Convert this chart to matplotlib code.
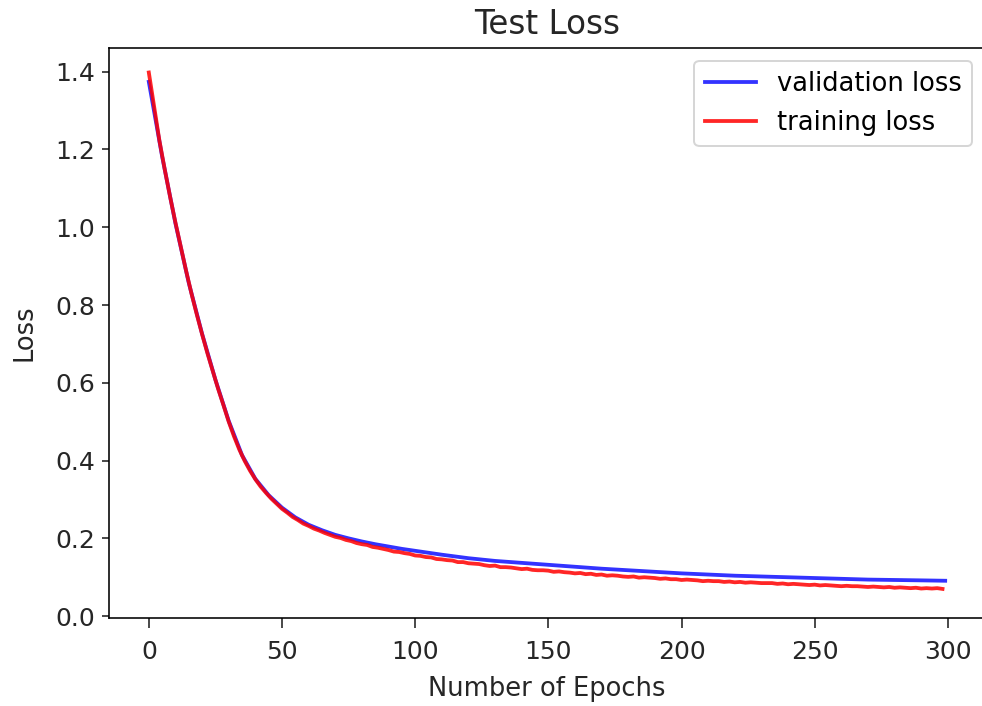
import matplotlib
matplotlib.use("Agg")
import matplotlib.pyplot as plt

# Validation loss, sampled every 5 epochs (last point at epoch 299)
val_epochs = [0, 5, 10, 15, 20, 25, 30, 35, 40, 45, 50, 55, 60, 65, 70, 75, 80,
              85, 90, 95, 100, 110, 120, 130, 140, 150, 160, 170, 180, 190, 200,
              210, 220, 230, 240, 250, 260, 270, 280, 290, 299]
val_loss = [1.374, 1.182, 1.010, 0.857, 0.726, 0.608, 0.502, 0.414, 0.353, 0.311,
            0.279, 0.254, 0.235, 0.221, 0.209, 0.200, 0.192, 0.185, 0.179, 0.173,
            0.168, 0.158, 0.149, 0.142, 0.137, 0.132, 0.127, 0.122, 0.118, 0.114,
            0.110, 0.107, 0.104, 0.102, 0.100, 0.098, 0.096, 0.094, 0.093, 0.092,
            0.091]

# Training loss, sampled every 2 epochs
train_epochs = list(range(0, 300, 2))
train_loss = [
    1.398, 1.310, 1.222, 1.148, 1.078, 1.012, 0.950, 0.888, 0.830, 0.776,
    0.725, 0.676, 0.630, 0.585, 0.543, 0.500, 0.462, 0.428, 0.399, 0.374,
    0.352, 0.333, 0.317, 0.302, 0.289, 0.276, 0.266, 0.255, 0.247, 0.238,
    0.232, 0.225, 0.220, 0.214, 0.209, 0.204, 0.201, 0.196, 0.193, 0.188,
    0.185, 0.183, 0.178, 0.176, 0.173, 0.170, 0.166, 0.165, 0.162, 0.160,
    0.156, 0.155, 0.152, 0.151, 0.147, 0.146, 0.144, 0.143, 0.139, 0.139,
    0.136, 0.135, 0.134, 0.131, 0.129, 0.130, 0.126, 0.126, 0.125, 0.123,
    0.121, 0.122, 0.119, 0.118, 0.118, 0.117, 0.114, 0.115, 0.113, 0.112,
    0.110, 0.111, 0.108, 0.109, 0.106, 0.107, 0.104, 0.105, 0.104, 0.102,
    0.101, 0.102, 0.099, 0.100, 0.099, 0.098, 0.096, 0.097, 0.095, 0.095,
    0.093, 0.094, 0.093, 0.092, 0.090, 0.091, 0.090, 0.090, 0.088, 0.089,
    0.087, 0.088, 0.086, 0.087, 0.086, 0.085, 0.085, 0.085, 0.083, 0.084,
    0.082, 0.083, 0.082, 0.081, 0.080, 0.081, 0.079, 0.080, 0.079, 0.078,
    0.077, 0.078, 0.077, 0.077, 0.076, 0.075, 0.076, 0.075, 0.074, 0.075,
    0.073, 0.074, 0.073, 0.072, 0.073, 0.071, 0.072, 0.071, 0.072, 0.070,
]

title = "Test Loss"
x_label = "Number of Epochs"
y_label = "Loss"
x_ticks = [0, 50, 100, 150, 200, 250, 300]
y_ticks = [0.0, 0.2, 0.4, 0.6, 0.8, 1.0, 1.2, 1.4]

fig = plt.figure(figsize=(982 / 144, 706 / 144), dpi=144)
ax = fig.add_axes([109 / 982, 1 - 617.7 / 706, 876 / 982, (617.7 - 48) / 706])

ax.plot(val_epochs, val_loss, color="blue", alpha=0.8, lw=1.9, label="validation loss")
ax.plot(train_epochs, train_loss, color="red", alpha=0.85, lw=1.9, label="training loss")

ax.set_xlim(-14.95, 313.95)
ax.set_ylim(-0.004, 1.461)
ax.set_xticks(x_ticks)
ax.set_yticks(y_ticks)
ax.tick_params(labelsize=12.5, colors="#222222", labelcolor="#262626")
ax.tick_params(axis="x", length=5, pad=6)
ax.set_title(title, fontsize=16.3, color="#262626", pad=7)
ax.set_xlabel(x_label, fontsize=12.9, color="#262626", labelpad=6)
ax.set_ylabel(y_label, fontsize=12.9, color="#262626", labelpad=9)
ax.legend(loc="upper right", fontsize=12.9)

fig.savefig("out.png", dpi=144)
